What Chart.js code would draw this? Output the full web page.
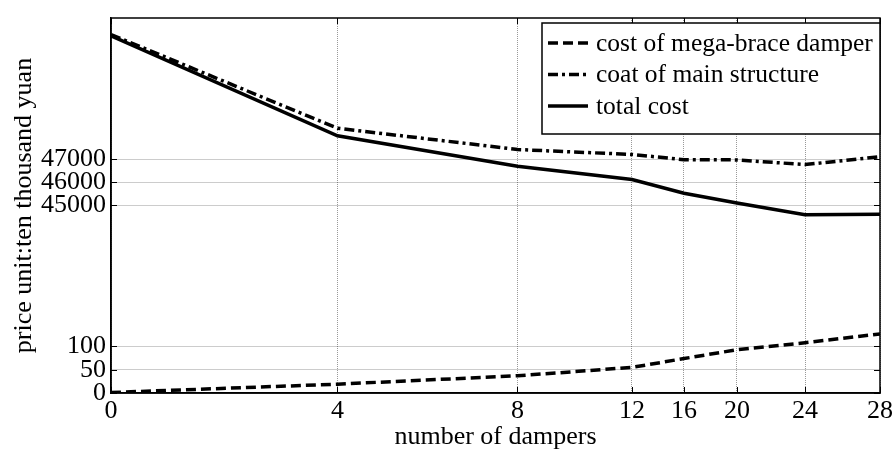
<!DOCTYPE html>
<html>
<head>
<meta charset="utf-8">
<title>cost vs number of dampers</title>
<script src="https://cdn.jsdelivr.net/npm/chart.js@4.4.1/dist/chart.umd.min.js"></script>
<style>
  body { margin: 0; background: #fff; }
  canvas { display: block; }
</style>
</head>
<body>
<canvas id="costChart" width="896" height="453"></canvas>
<script>
// values
var dampers = [0, 4, 8, 12, 16, 20, 24, 28];
var damperCost = [1, 19, 37, 55, 74, 93, 108, 127];
var mainCost = [52420, 48355, 47430, 47215, 46990, 46980, 46775, 47115];
var totalCost = [52370, 48025, 46700, 46130, 45535, 45105, 44595, 44620];
var yTicks = [0, 50, 100, 45000, 46000, 47000];
var seriesNames = ["cost of mega-brace damper", "coat of main structure", "total cost"];

var FONT = "Liberation Serif, Times New Roman, serif";

// linear scale whose value->pixel mapping is piecewise (broken / uneven axis like the original)
class PiecewiseScale extends Chart.LinearScale {
  static id = 'piecewise';
  static defaults = Chart.LinearScale.defaults;

  _frac(v) {
    var s = this.options.stops;
    if (v <= s[0][0]) return s[0][1];
    for (var i = 1; i < s.length; i++) {
      if (v <= s[i][0] || i === s.length - 1) {
        var a = s[i - 1], b = s[i];
        return a[1] + (v - a[0]) / (b[0] - a[0]) * (b[1] - a[1]);
      }
    }
  }
  getPixelForValue(value) {
    return this.getPixelForDecimal(this._frac(value));
  }
  getValueForPixel(pixel) {
    var f = this.getDecimalForPixel(pixel);
    var s = this.options.stops;
    for (var i = 1; i < s.length; i++) {
      if (f <= s[i][1] || i === s.length - 1) {
        var a = s[i - 1], b = s[i];
        return a[0] + (f - a[1]) / (b[1] - a[1]) * (b[0] - a[0]);
      }
    }
  }
  buildTicks() {
    return this.options.tickValues.map(function(v) { return { value: v }; });
  }
}
Chart.register(PiecewiseScale);

function pts(ys) {
  return dampers.map(function(d, i) { return { x: d, y: ys[i] }; });
}

// full box, inward tick marks on all four sides, and the boxed legend
var frame = {
  id: 'frame',
  afterDatasetsDraw: function(chart) {
    var ctx = chart.ctx, a = chart.chartArea;
    var xs = chart.scales.x, ys = chart.scales.y;
    ctx.save();
    ctx.strokeStyle = '#000';
    ctx.lineWidth = 1;
    ctx.beginPath();
    xs.ticks.forEach(function(t, i) {
      var p = Math.round(xs.getPixelForTick(i)) + 0.5;
      ctx.moveTo(p, a.bottom); ctx.lineTo(p, a.bottom - 6);
      ctx.moveTo(p, a.top); ctx.lineTo(p, a.top + 6);
    });
    ys.ticks.forEach(function(t, i) {
      var p = Math.round(ys.getPixelForTick(i)) + 0.5;
      ctx.moveTo(a.left, p); ctx.lineTo(a.left + 6, p);
      ctx.moveTo(a.right, p); ctx.lineTo(a.right - 6, p);
    });
    ctx.stroke();
    ctx.lineWidth = 1.5;
    ctx.strokeRect(a.left, a.top, a.right - a.left, a.bottom - a.top);

    // legend
    var lx = 542, ly = 23, lw = a.right - lx, lh = 111;
    ctx.fillStyle = '#fff';
    ctx.fillRect(lx, ly, lw, lh);
    ctx.lineWidth = 1.5;
    ctx.strokeRect(lx, ly, lw, lh);
    ctx.font = '25.5px ' + FONT;
    ctx.textBaseline = 'middle';
    ctx.textAlign = 'left';
    chart.data.datasets.forEach(function(ds, i) {
      var y = ly + 20 + i * 31.5;
      ctx.strokeStyle = '#000';
      ctx.lineWidth = 3.5;
      ctx.setLineDash(ds.borderDash || []);
      ctx.beginPath();
      ctx.moveTo(lx + 6, y); ctx.lineTo(lx + 46, y);
      ctx.stroke();
      ctx.setLineDash([]);
      ctx.fillStyle = '#000';
      ctx.fillText(ds.label, lx + 54, y + 1);
    });
    ctx.restore();
  }
};

var ctx = document.getElementById('costChart').getContext('2d');
var costChart = new Chart(ctx, {
  type: 'line',
  data: {
    datasets: [{
      label: seriesNames[0],
      data: pts(damperCost),
      borderColor: '#000',
      borderWidth: 3.5,
      borderDash: [10, 5]
    }, {
      label: seriesNames[1],
      data: pts(mainCost),
      borderColor: '#000',
      borderWidth: 3.5,
      borderDash: [10, 4, 3, 4]
    }, {
      label: seriesNames[2],
      data: pts(totalCost),
      borderColor: '#000',
      borderWidth: 3.5
    }]
  },
  options: {
    responsive: false,
    animation: false,
    devicePixelRatio: 1,
    layout: { padding: { top: 12, right: 16, left: 0, bottom: 0 } },
    elements: { point: { radius: 0 }, line: { tension: 0 } },
    plugins: { legend: { display: false }, tooltip: { enabled: false } },
    scales: {
      x: {
        type: 'piecewise',
        position: 'bottom',
        min: 0,
        max: 28,
        stops: [[0, 0], [4, 0.2945], [8, 0.5286], [12, 0.6775], [16, 0.7451], [20, 0.8140], [24, 0.9025], [28, 1]],
        tickValues: dampers,
        afterFit: function(s) { s.height = 60; },
        grid: { color: 'rgba(0,0,0,0.4)', lineWidth: 1, drawTicks: false },
        border: { display: true, color: '#000', width: 1.5, dash: [1, 1] },
        ticks: {
          autoSkip: false, maxRotation: 0, padding: 3,
          color: '#000', font: { family: FONT, size: 26 },
          callback: function(v) { return String(v); }
        },
        title: {
          display: true, text: 'number of dampers', color: '#000',
          font: { family: FONT, size: 26, lineHeight: 1 },
          padding: { top: 0, bottom: 3 }
        }
      },
      y: {
        type: 'piecewise',
        position: 'left',
        min: 0,
        max: 53140,
        stops: [[0, 0], [200, 0.2482], [44000, 0.4386], [53140, 1]],
        tickValues: yTicks,
        afterFit: function(s) { s.width = 111; },
        grid: { color: 'rgba(0,0,0,0.4)', lineWidth: 1, drawTicks: false },
        border: { display: true, color: '#000', width: 1.5, dash: [1, 1] },
        ticks: {
          autoSkip: false, padding: 5,
          color: '#000', font: { family: FONT, size: 26, lineHeight: 1 },
          callback: function(v) { return String(v); }
        },
        title: {
          display: true, text: 'price unit:ten thousand yuan', color: '#000',
          font: { family: FONT, size: 26, lineHeight: 1 },
          padding: { top: 11, bottom: 0 }
        }
      }
    }
  },
  plugins: [frame]
});
</script>
</body>
</html>
